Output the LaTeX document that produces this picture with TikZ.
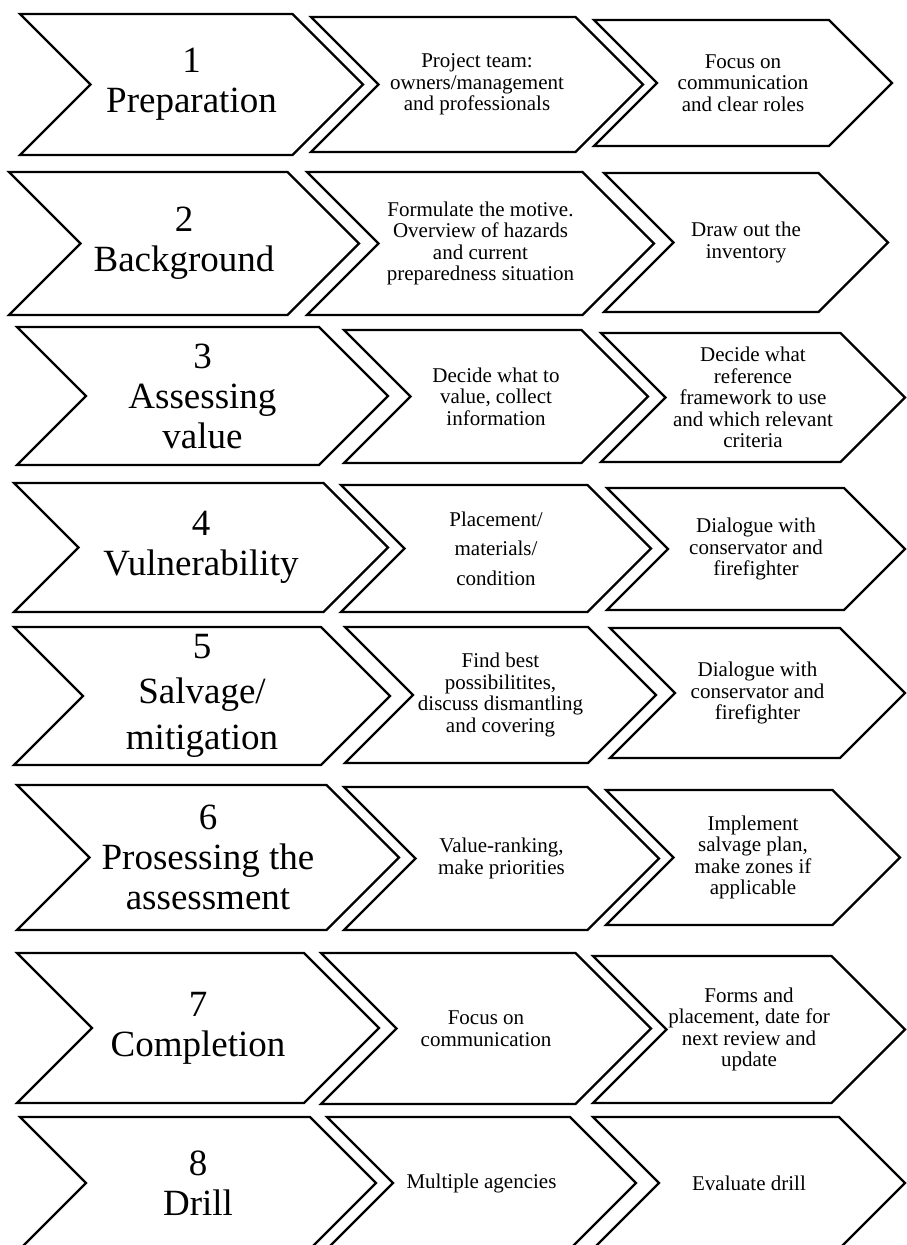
\documentclass[tikz,border=0pt]{standalone}
\usepackage{fontspec}
\setmainfont{Liberation Serif}
\newcommand\bigtxt{\fontsize{37}{40}\selectfont}
\newcommand\smalltxt{\fontsize{21}{21.5}\selectfont}
% chevron: name, left x, point x, top y, bottom y, font, text
\newcommand\chevbox[7]{%
  \draw[chev] (#2,#4) -- ({#3-(#5-#4)/2},#4) -- (#3,{(#4+#5)/2})
    -- ({#3-(#5-#4)/2},#5) -- (#2,#5) -- ({#2+(#5-#4)/2},{(#4+#5)/2}) -- cycle;
  \node[lbl,font=#6] (#1) at ({(#2+#3)/2},{(#4+#5)/2}) {#7};}
\begin{document}
\begin{tikzpicture}[x=1pt,y=-1pt,
    chev/.style={draw,line width=2.2pt,line join=miter,fill=white},
    lbl/.style={align=center,inner sep=0pt}]
\clip (0,0) rectangle (907,1245);
\useasboundingbox (0,0) rectangle (907,1245);
% row 1
\chevbox{prep}{20}{363}{14}{155}{\bigtxt}{1\\Preparation}
\chevbox{prepa}{311}{643}{17}{152}{\smalltxt}{Project team:\\owners/management\\and professionals}
\chevbox{prepb}{594}{892}{20}{146}{\smalltxt}{Focus on\\communication\\and clear roles}
% row 2
\chevbox{back}{9}{359}{172}{315}{\bigtxt}{2\\Background}
\chevbox{backa}{307}{654}{172}{315}{\smalltxt}{Formulate the motive.\\Overview of hazards\\and current\\preparedness situation}
\chevbox{backb}{604}{888}{173}{312}{\smalltxt}{Draw out the\\inventory}
% row 3
\chevbox{val}{17}{388}{327}{465}{\bigtxt}{3\\Assessing\\value}
\chevbox{vala}{344}{648}{330}{463}{\smalltxt}{Decide what to\\value, collect\\information}
\chevbox{valb}{601}{905}{333}{462}{\smalltxt}{Decide what\\reference\\framework to use\\and which relevant\\criteria}
% row 4
\chevbox{vuln}{14}{388}{483}{612}{\bigtxt}{4\\Vulnerability}
\chevbox{vulna}{341}{651}{485}{612}{\smalltxt}{Placement/\\[8pt]materials/\\[8pt]condition}
\chevbox{vulnb}{607}{905}{488}{610}{\smalltxt}{Dialogue with\\conservator and\\firefighter}
% row 5
\chevbox{salv}{14}{390}{627}{765}{\bigtxt}{5\\[5pt]Salvage/\\[6pt]mitigation}
\chevbox{salva}{345}{656}{627}{763}{\smalltxt}{Find best\\possibilitites,\\discuss dismantling\\and covering}
\chevbox{salvb}{610}{905}{628}{758}{\smalltxt}{Dialogue with\\conservator and\\firefighter}
% row 6
\chevbox{proc}{17}{399}{785}{930}{\bigtxt}{6\\Prosessing the\\assessment}
\chevbox{proca}{344}{659}{787}{930}{\smalltxt}{Value-ranking,\\make priorities}
\chevbox{procb}{606}{900}{790}{925}{\smalltxt}{Implement\\salvage plan,\\make zones if\\applicable}
% row 7
\chevbox{comp}{17}{379}{953}{1103}{\bigtxt}{7\\Completion}
\chevbox{compa}{321}{651}{953}{1104}{\smalltxt}{Focus on\\communication}
\chevbox{compb}{593}{905}{956}{1103}{\smalltxt}{Forms and\\placement, date for\\next review and\\update}
% row 8
\chevbox{drill}{20}{376}{1117}{1249}{\bigtxt}{8\\Drill}
\chevbox{drilla}{327}{636}{1117}{1249}{\smalltxt}{Multiple agencies}
\chevbox{drillb}{593}{905}{1117}{1249}{\smalltxt}{Evaluate drill}
\end{tikzpicture}
\end{document}
